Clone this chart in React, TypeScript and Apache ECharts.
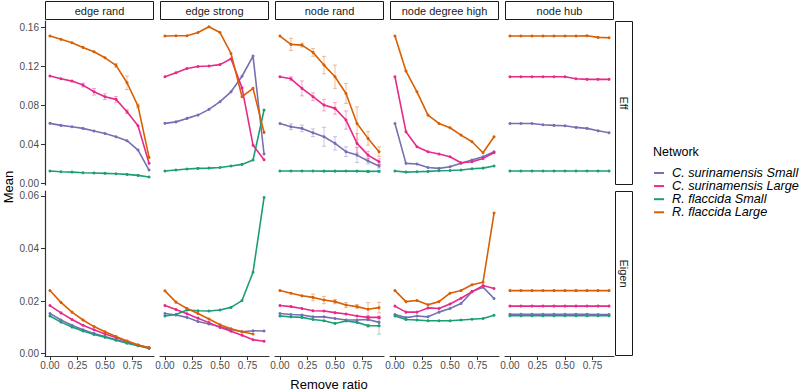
import React, { useEffect, useRef } from "react";
import * as echarts from "echarts";

const FONT = "Liberation Sans, Arial, Helvetica, sans-serif";

const xs = [0, 0.1, 0.2, 0.3, 0.4, 0.5, 0.6, 0.7, 0.8, 0.9];
const networks = ["C. surinamensis Small", "C. surinamensis Large", "R. flaccida Small", "R. flaccida Large"];
const colors = ["#7570B3", "#E7298A", "#1B9E77", "#D95F02"];
const fadedColors = ["rgba(117,112,179,0.4)", "rgba(231,41,138,0.4)", "rgba(27,158,119,0.4)", "rgba(217,95,2,0.4)"];
const panels = ["edge rand", "edge strong", "node rand", "node degree high", "node hub"];
const rowNames = ["Eff", "Eigen"];
const xTicks = [0, 0.25, 0.5, 0.75];
const effTicks = [0, 0.04, 0.08, 0.12, 0.16];
const eigenTicks = [0, 0.02, 0.04, 0.06];

// Eff row, order: C.sur Small, C.sur Large, R.fla Small, R.fla Large
const effEdgeRand = [
  [0.0615, 0.0594, 0.058, 0.0563, 0.0536, 0.0511, 0.0477, 0.0436, 0.034, 0.0134],
  [0.1102, 0.1074, 0.105, 0.1009, 0.094, 0.0889, 0.0862, 0.0735, 0.059, 0.0203],
  [0.0124, 0.0117, 0.0113, 0.0106, 0.0103, 0.01, 0.0096, 0.0089, 0.0079, 0.0062],
  [0.1514, 0.148, 0.1445, 0.1397, 0.1353, 0.129, 0.1212, 0.1033, 0.0793, 0.0264],
];
const effEdgeStrong = [
  [0.0615, 0.063, 0.0666, 0.07, 0.0759, 0.0838, 0.094, 0.11, 0.1308, 0.0299],
  [0.1095, 0.1136, 0.118, 0.12, 0.1205, 0.122, 0.128, 0.098, 0.039, 0.024],
  [0.0124, 0.0134, 0.0144, 0.0151, 0.0154, 0.0161, 0.0175, 0.0192, 0.0237, 0.0752],
  [0.1514, 0.1517, 0.1517, 0.155, 0.161, 0.155, 0.1335, 0.0889, 0.0975, 0.0522],
];
const effNodeRand = [
  [0.0614, 0.058, 0.0563, 0.0518, 0.0477, 0.0409, 0.0323, 0.0288, 0.0227, 0.0175],
  [0.1095, 0.1074, 0.0975, 0.0889, 0.0803, 0.0769, 0.0649, 0.0409, 0.0288, 0.022],
  [0.0124, 0.0124, 0.0124, 0.0124, 0.0123, 0.0123, 0.0124, 0.0123, 0.012, 0.0121],
  [0.1514, 0.1428, 0.1421, 0.1346, 0.1215, 0.1095, 0.0923, 0.0614, 0.046, 0.0323],
];
const effNodeDegreeHigh = [
  [0.0614, 0.0203, 0.0196, 0.0161, 0.0151, 0.0168, 0.0203, 0.0237, 0.0271, 0.0323],
  [0.1095, 0.0529, 0.0374, 0.0323, 0.0299, 0.0271, 0.0209, 0.022, 0.0254, 0.0312],
  [0.0124, 0.0113, 0.0117, 0.012, 0.0127, 0.013, 0.0134, 0.0148, 0.0154, 0.0175],
  [0.1514, 0.1153, 0.094, 0.07, 0.0614, 0.057, 0.0494, 0.0426, 0.0312, 0.0477],
];
const effNodeHub = [
  [0.0614, 0.0614, 0.0614, 0.0601, 0.0594, 0.059, 0.0573, 0.0563, 0.0539, 0.0518],
  [0.1095, 0.1095, 0.1095, 0.1095, 0.1095, 0.1095, 0.1074, 0.1068, 0.1068, 0.1068],
  [0.0124, 0.0124, 0.0124, 0.0124, 0.0124, 0.0124, 0.0124, 0.0124, 0.0124, 0.0124],
  [0.1514, 0.1514, 0.1514, 0.1514, 0.1514, 0.1514, 0.1514, 0.1517, 0.15, 0.1497],
];

// Eigen row
const eigenEdgeRand = [
  [0.0153, 0.0128, 0.0108, 0.0091, 0.0077, 0.0065, 0.0053, 0.0042, 0.0031, 0.0021],
  [0.0183, 0.0155, 0.013, 0.0108, 0.0091, 0.0075, 0.0061, 0.0047, 0.0033, 0.0022],
  [0.0143, 0.012, 0.0101, 0.0086, 0.0073, 0.0062, 0.0051, 0.004, 0.003, 0.0021],
  [0.024, 0.0195, 0.0158, 0.0128, 0.0103, 0.0083, 0.0065, 0.0048, 0.0033, 0.0022],
];
const eigenEdgeStrong = [
  [0.0153, 0.0147, 0.0138, 0.0122, 0.0113, 0.0102, 0.0092, 0.0083, 0.0087, 0.0086],
  [0.0183, 0.0168, 0.0152, 0.0135, 0.0118, 0.01, 0.0085, 0.007, 0.0053, 0.0047],
  [0.0143, 0.0149, 0.0166, 0.0163, 0.0162, 0.0166, 0.0176, 0.0202, 0.031, 0.0594],
  [0.0239, 0.0196, 0.0172, 0.0153, 0.0132, 0.011, 0.0095, 0.0083, 0.0075, null],
];
const eigenNodeRand = [
  [0.0153, 0.0149, 0.0147, 0.014, 0.014, 0.0134, 0.0128, 0.0128, 0.013, 0.0119],
  [0.0183, 0.0179, 0.0172, 0.0163, 0.0162, 0.0156, 0.0151, 0.0143, 0.0138, 0.0138],
  [0.0143, 0.014, 0.0138, 0.013, 0.0125, 0.0115, 0.0124, 0.0119, 0.0106, 0.0106],
  [0.024, 0.023, 0.022, 0.0214, 0.0204, 0.0198, 0.0185, 0.0179, 0.0169, 0.0175],
];
const eigenNodeDegreeHigh = [
  [0.0149, 0.0137, 0.0143, 0.014, 0.0158, 0.0172, 0.0191, 0.0236, 0.0253, 0.021],
  [0.0181, 0.0158, 0.0158, 0.0174, 0.0172, 0.0189, 0.0211, 0.0236, 0.0259, 0.0248],
  [0.0143, 0.013, 0.0128, 0.0125, 0.0125, 0.0125, 0.0128, 0.0131, 0.0134, 0.0146],
  [0.024, 0.0198, 0.0202, 0.0186, 0.0198, 0.023, 0.024, 0.0262, 0.0272, 0.0535],
];
const eigenNodeHub = [
  [0.015, 0.015, 0.015, 0.015, 0.015, 0.015, 0.015, 0.015, 0.0149, 0.0149],
  [0.0181, 0.0181, 0.0181, 0.0181, 0.0181, 0.0181, 0.0181, 0.0181, 0.0181, 0.0181],
  [0.0144, 0.0144, 0.0144, 0.0144, 0.0144, 0.0144, 0.0144, 0.0144, 0.0144, 0.0144],
  [0.024, 0.024, 0.024, 0.024, 0.024, 0.024, 0.024, 0.024, 0.024, 0.024],
];

// error half-widths (only panels with visible error bars)
const errEffEdgeRand = [
  [0, 0, 0, 0, 0, 0, 0, 0, 0, 0],
  [0, 0, 0, 0.002, 0.0034, 0.003, 0.003, 0.002, 0, 0],
  [0, 0, 0, 0, 0, 0, 0, 0, 0, 0],
  [0, 0, 0, 0, 0, 0, 0.002, 0.007, 0.002, 0],
];
const errEffNodeRand = [
  [0, 0.003, 0.0034, 0.004, 0.0098, 0.0069, 0.005, 0.0077, 0.003, 0.002],
  [0, 0.002, 0.0077, 0.004, 0.006, 0.006, 0.0094, 0.01, 0.004, 0.003],
  [0, 0, 0, 0, 0, 0, 0, 0, 0.001, 0.001],
  [0, 0.0063, 0.002, 0.004, 0.009, 0.012, 0.0103, 0.017, 0.007, 0.005],
];
const errEigenNodeRand = [
  [0, 0, 0, 0, 0, 0, 0, 0, 0.0005, 0.0015],
  [0, 0, 0, 0, 0, 0, 0, 0, 0.0005, 0.0005],
  [0, 0, 0, 0, 0, 0, 0, 0, 0.0005, 0.0032],
  [0, 0, 0, 0.0013, 0.0014, 0.0008, 0.001, 0.0008, 0.0025, 0.002],
];

const effData = [effEdgeRand, effEdgeStrong, effNodeRand, effNodeDegreeHigh, effNodeHub];
const eigenData = [eigenEdgeRand, eigenEdgeStrong, eigenNodeRand, eigenNodeDegreeHigh, eigenNodeHub];
const effErr = [errEffEdgeRand, null, errEffNodeRand, null, null];
const eigenErr = [null, null, errEigenNodeRand, null, null];

// layout
const colLeft = [45, 160, 275, 390, 505];
const colW = 109;
const rowTop = [21, 191];
const rowH = [164, 165];
const yMin = [-0.002, -0.0009];
const yMax = [0.1669, 0.0619];

export default function App() {
  const ref = useRef<HTMLDivElement>(null);
  useEffect(() => {
    document.body.style.margin = "0";
    if (!ref.current) return;
    const chart = echarts.init(ref.current, null, { renderer: "svg" });

    const grids: any[] = [];
    const xAxes: any[] = [];
    const yAxes: any[] = [];
    const series: any[] = [];
    const graphics: any[] = [];
    const rowsData = [effData, eigenData];
    const rowsErr = [effErr, eigenErr];
    const rowTicks = [effTicks, eigenTicks];

    for (let r = 0; r < 2; r++) {
      for (let c = 0; c < 5; c++) {
        const gi = r * 5 + c;
        grids.push({ left: colLeft[c], top: rowTop[r], width: colW, height: rowH[r] });
        xAxes.push({
          type: "value",
          gridIndex: gi,
          min: -0.045,
          max: 0.945,
          splitLine: { show: false },
          axisLine: { show: r === 1, onZero: false, lineStyle: { color: "#333333", width: 1.2 } },
          axisTick: { show: r === 1, length: 4, customValues: xTicks, lineStyle: { color: "#333333" } },
          axisLabel: {
            show: r === 1,
            customValues: xTicks,
            formatter: (v: number) => v.toFixed(2),
            fontSize: 10,
            color: "#4D4D4D",
            margin: 4,
            fontFamily: FONT,
          },
        });
        yAxes.push({
          type: "value",
          gridIndex: gi,
          min: yMin[r],
          max: yMax[r],
          splitLine: { show: false },
          axisLine: { show: c === 0, onZero: false, lineStyle: { color: "#333333", width: 1.2 } },
          axisTick: { show: c === 0, length: 4, customValues: rowTicks[r], lineStyle: { color: "#333333" } },
          axisLabel: {
            show: c === 0,
            customValues: rowTicks[r],
            formatter: (v: number) => v.toFixed(2),
            fontSize: 10,
            color: "#4D4D4D",
            margin: 6,
            fontFamily: FONT,
          },
        });
        const errs = rowsErr[r][c];
        for (let n = 0; n < 4; n++) {
          const vals = rowsData[r][c][n];
          if (errs) {
            const e = errs[n];
            const edata = xs
              .map((x, k) => [x, vals[k], e[k]])
              .filter((d) => d[1] != null && (d[2] as number) > 0);
            if (edata.length) {
              series.push({
                type: "custom",
                name: networks[n],
                xAxisIndex: gi,
                yAxisIndex: gi,
                z: 1,
                silent: true,
                data: edata,
                renderItem: (params: any, api: any) => {
                  const x = api.value(0);
                  const y = api.value(1);
                  const ee = api.value(2);
                  const top = api.coord([x, y + ee]);
                  const bot = api.coord([x, y - ee]);
                  const w = 2;
                  const st = { stroke: fadedColors[n], lineWidth: 1 };
                  return {
                    type: "group",
                    children: [
                      { type: "line", shape: { x1: top[0], y1: top[1], x2: bot[0], y2: bot[1] }, style: st },
                      { type: "line", shape: { x1: top[0] - w, y1: top[1], x2: top[0] + w, y2: top[1] }, style: st },
                      { type: "line", shape: { x1: bot[0] - w, y1: bot[1], x2: bot[0] + w, y2: bot[1] }, style: st },
                    ],
                  };
                },
              });
            }
          }
          series.push({
            type: "line",
            name: networks[n],
            xAxisIndex: gi,
            yAxisIndex: gi,
            z: 2,
            data: xs.map((x, k) => [x, vals[k]]),
            symbol: "circle",
            symbolSize: 3,
            showSymbol: true,
            lineStyle: { color: colors[n], width: 1.6 },
            itemStyle: { color: colors[n] },
            emphasis: { disabled: true },
          });
        }
      }
    }

    // top strips
    for (let c = 0; c < 5; c++) {
      graphics.push({
        type: "rect",
        shape: { x: colLeft[c] + 0.5, y: 1.5, width: colW - 1, height: 18 },
        style: { fill: "#ffffff", stroke: "#1a1a1a", lineWidth: 1 },
      });
      graphics.push({
        type: "text",
        x: colLeft[c] + colW / 2,
        y: 11,
        style: {
          text: panels[c],
          align: "center",
          verticalAlign: "middle",
          fontSize: 11,
          fontFamily: FONT,
          fill: "#1a1a1a",
        },
      });
    }
    // right strips
    for (let r = 0; r < 2; r++) {
      graphics.push({
        type: "rect",
        shape: { x: 615.5, y: rowTop[r] + 0.5, width: 17, height: rowH[r] - 1 },
        style: { fill: "#ffffff", stroke: "#1a1a1a", lineWidth: 1 },
      });
      graphics.push({
        type: "text",
        x: 624,
        y: rowTop[r] + rowH[r] / 2,
        rotation: -Math.PI / 2,
        style: {
          text: rowNames[r],
          align: "center",
          verticalAlign: "middle",
          fontSize: 11,
          fontFamily: FONT,
          fill: "#1a1a1a",
        },
      });
    }
    // axis titles
    graphics.push({
      type: "text",
      x: 8,
      y: 187,
      rotation: Math.PI / 2,
      style: { text: "Mean", align: "center", verticalAlign: "middle", fontSize: 13, fontFamily: FONT, fill: "#000" },
    });
    graphics.push({
      type: "text",
      x: 329,
      y: 384,
      style: { text: "Remove ratio", align: "center", verticalAlign: "middle", fontSize: 13, fontFamily: FONT, fill: "#000" },
    });
    // legend title
    graphics.push({
      type: "text",
      x: 653,
      y: 152,
      style: { text: "Network", align: "left", verticalAlign: "middle", fontSize: 12.5, fontFamily: FONT, fill: "#000" },
    });

    chart.setOption({
      animation: false,
      backgroundColor: "#ffffff",
      grid: grids,
      xAxis: xAxes,
      yAxis: yAxes,
      series,
      legend: {
        data: networks.map((nm, i) => ({ name: nm, itemStyle: { color: colors[i] } })),
        orient: "vertical",
        left: 654,
        top: 166.5,
        padding: 0,
        itemGap: 0.1,
        itemWidth: 10,
        itemHeight: 2,
        icon: "rect",
        selectedMode: false,
        textStyle: {
          fontStyle: "italic",
          fontSize: 12.7,
          lineHeight: 13,
          fontFamily: FONT,
          color: "#000",
          padding: [0, 0, 0, 3],
        },
      },
      graphic: graphics,
    });
    return () => chart.dispose();
  }, []);
  return <div ref={ref} style={{ width: 800, height: 391 }} />;
}
